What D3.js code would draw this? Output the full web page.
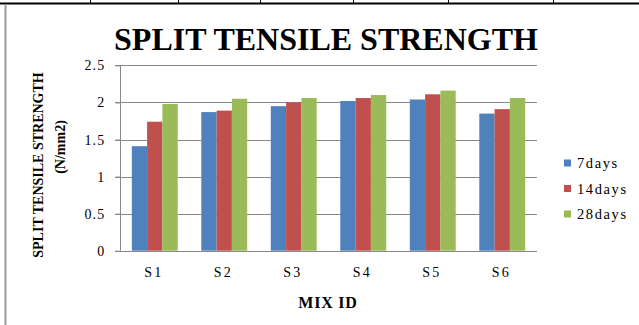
<!DOCTYPE html>
<html>
<head>
<meta charset="utf-8">
<script src="https://cdn.jsdelivr.net/npm/d3@7"></script>
<style>
  html, body { margin: 0; padding: 0; background: #fff; }
  svg { display: block; font-family: "Liberation Serif", "Times New Roman", serif; }
</style>
</head>
<body>
<svg id="chart" width="639" height="325"></svg>
<script>
// Mix IDs and split tensile strength (N/mm2) per curing age
const categories = ["S1", "S2", "S3", "S4", "S5", "S6"];
const seriesNames = ["7days", "14days", "28days"];
const days7  = [1.41, 1.87, 1.95, 2.02, 2.04, 1.85];
const days14 = [1.74, 1.89, 2.00, 2.06, 2.11, 1.91];
const days28 = [1.98, 2.05, 2.06, 2.10, 2.16, 2.06];
const yTicks = [0, 0.5, 1, 1.5, 2, 2.5];
const colors = ["#4F81BD", "#C0504D", "#9BBB59"];

const seriesValues = [days7, days14, days28];
const svg = d3.select("#chart");
const serif = "'Liberation Serif', 'Times New Roman', serif";

// page table borders around the figure
const border = svg.append("g");
border.append("line").attr("x1", 0).attr("x2", 639).attr("y1", 3.5).attr("y2", 3.5)
  .attr("stroke", "#000").attr("stroke-width", 2);
[90, 178, 260, 353, 448, 553].forEach(xp => {
  border.append("line").attr("x1", xp + 0.5).attr("x2", xp + 0.5).attr("y1", 0).attr("y2", 3)
    .attr("stroke", "#000").attr("stroke-width", 1);
});
border.append("line").attr("x1", 5.5).attr("x2", 5.5).attr("y1", 4).attr("y2", 325)
  .attr("stroke", "#9a9a9a").attr("stroke-width", 2);

// plot area
const plotLeft = 120, plotRight = 537, plotTop = 65.4, plotBottom = 250.7;

const x = d3.scaleBand().domain(categories).range([plotLeft, plotRight]).padding(0);
const xInner = d3.scaleBand().domain(seriesNames)
  .range([11.8, x.bandwidth() - 11.8]).padding(0);
const y = d3.scaleLinear().domain([0, 2.5]).range([plotBottom, plotTop]);

// horizontal gridlines
svg.append("g").selectAll("line").data(yTicks).join("line")
  .attr("x1", plotLeft - 5).attr("x2", plotRight)
  .attr("y1", d => Math.round(y(d)) + 0.5).attr("y2", d => Math.round(y(d)) + 0.5)
  .attr("stroke", "#888").attr("stroke-width", 1);

// bars
const groups = svg.append("g").selectAll("g").data(categories).join("g")
  .attr("transform", c => `translate(${x(c)},0)`);
groups.selectAll("rect")
  .data((c, i) => seriesNames.map((s, k) => ({ s, k, v: seriesValues[k][i] })))
  .join("rect")
  .attr("x", d => xInner(d.s))
  .attr("width", xInner.bandwidth())
  .attr("y", d => y(d.v))
  .attr("height", d => y(0) - y(d.v))
  .attr("fill", d => colors[d.k]);

// y axis
const yAxis = d3.axisLeft(y).tickValues(yTicks).tickSize(5).tickPadding(10)
  .tickFormat(d => String(d));
const ya = svg.append("g").attr("transform", `translate(${plotLeft + 0.5},0)`).call(yAxis)
  .attr("font-family", serif);
ya.select(".domain").attr("stroke", "#888").attr("d", `M0,${plotTop}V${plotBottom}`);
ya.selectAll(".tick line").attr("stroke", "#888");
ya.selectAll(".tick text").attr("font-size", 14)
  .attr("letter-spacing", 1.2).attr("fill", "#000");

// x axis labels
const xAxis = d3.axisBottom(x).tickSize(0).tickPadding(16);
const xa = svg.append("g").attr("transform", `translate(0,${plotBottom})`).call(xAxis)
  .attr("font-family", serif);
xa.select(".domain").remove();
xa.selectAll(".tick text").attr("font-size", 14)
  .attr("letter-spacing", 2).attr("fill", "#000").attr("dx", -1);

// title
svg.append("text").attr("x", 326).attr("y", 50).attr("text-anchor", "middle")
  .attr("font-size", 32).attr("font-weight", "bold").text("SPLIT TENSILE STRENGTH");

// axis titles
svg.append("text").attr("x", 328).attr("y", 308).attr("text-anchor", "middle")
  .attr("font-size", 16).attr("font-weight", "bold").attr("letter-spacing", 0.8).text("MIX ID");

const yTitle = svg.append("text").attr("transform", "translate(43,165) rotate(-90)")
  .attr("text-anchor", "middle").attr("font-size", 14).attr("font-weight", "bold");
yTitle.append("tspan").attr("x", 0).attr("dy", 0).text("SPLIT TENSILE STRENGTH");
yTitle.append("tspan").attr("x", 18).attr("dy", 22).text("(N/mm2)");

// legend
const legend = svg.append("g").selectAll("g").data(seriesNames).join("g")
  .attr("transform", (d, i) => `translate(564,${163 + i * 25.5})`);
legend.append("rect").attr("x", 0).attr("y", -3.5).attr("width", 7).attr("height", 7)
  .attr("fill", (d, i) => colors[i]);
legend.append("text").attr("x", 13).attr("y", 5).attr("font-size", 14.5)
  .attr("letter-spacing", 1.6).text(d => d);
</script>
</body>
</html>
